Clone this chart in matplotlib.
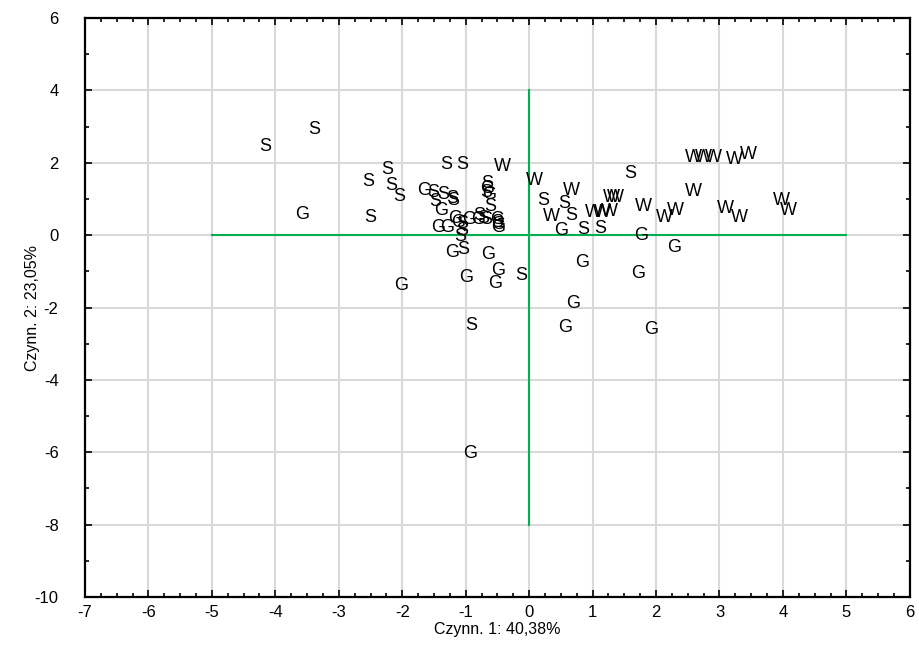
import numpy as np
import matplotlib.pyplot as plt
from matplotlib.ticker import MultipleLocator

plt.rcParams['font.family'] = ['Liberation Sans', 'DejaVu Sans']
plt.rcParams['axes.unicode_minus'] = False

# współrzędne czynnikowe dla grup S, G, W
s_x = [-4.16, -3.38, -2.51, -2.54, -2.23, -2.17, -2.05, -1.31, -1.06, -1.51,
       -1.35, -1.22, -1.19, -1.48, -1.06, -1.06, -1.08, -1.04, -0.78, -0.72,
       -0.66, -0.67, -0.62, -0.67, -0.50, -0.12, -0.91, 0.22, 0.56, 0.66,
       0.86, 1.12, 1.59]
s_y = [2.44, 2.92, 0.49, 1.48, 1.80, 1.36, 1.06, 1.94, 1.94, 1.18,
       1.12, 1.00, 0.95, 0.92, 0.33, 0.14, -0.04, -0.40, 0.53, 0.46,
       1.43, 1.17, 0.79, 0.42, 0.36, -1.12, -2.51, 0.95, 0.88, 0.53,
       0.16, 0.19, 1.71]

g_x = [-3.58, -1.65, -1.38, -1.17, -1.43, -1.30, -0.94, -0.80, -0.66, -0.63,
       -0.51, -0.49, -0.49, -1.22, -0.64, -0.49, -0.54, -1.00, -2.02, 0.50,
       1.76, 2.28, 0.84, 1.72, 0.70, 0.56, 1.93, -0.93, -1.12]
g_y = [0.57, 1.22, 0.67, 0.46, 0.22, 0.22, 0.42, 0.42, 1.29, 1.11,
       0.42, 0.28, 0.20, -0.49, -0.53, -0.97, -1.34, -1.18, -1.38, 0.14,
       0.00, -0.33, -0.76, -1.07, -1.90, -2.55, -2.62, -6.03, 0.35]

w_x = [-0.42, 0.08, 0.35, 0.67, 1.01, 1.27, 1.30, 1.36, 1.80, 2.13,
       2.30, 2.59, 2.59, 2.75, 2.90, 3.24, 3.45, 3.09, 3.31, 3.98,
       4.08, 1.16]
w_y = [1.91, 1.51, 0.51, 1.22, 0.62, 0.65, 1.04, 1.04, 0.80, 0.49,
       0.67, 1.20, 2.15, 2.15, 2.15, 2.09, 2.23, 0.74, 0.49, 0.97,
       0.69, 0.62]

fig = plt.figure(figsize=(9.19, 6.69), dpi=100)
ax = fig.add_axes([0.0925, 0.1076, 0.8975, 0.8655])

ax.set_xlim(-7, 6)
ax.set_ylim(-10, 6)
ax.xaxis.set_major_locator(MultipleLocator(1))
ax.xaxis.set_minor_locator(MultipleLocator(0.25))
ax.yaxis.set_major_locator(MultipleLocator(2))
ax.yaxis.set_minor_locator(MultipleLocator(1))
ax.grid(True, which='major', color='#d9d9d9', linewidth=1.5, zorder=0)
ax.set_axisbelow(True)

ax.tick_params(which='both', direction='in', top=True, right=True,
               width=1.2, color='black')
ax.tick_params(which='major', length=5, labelsize=12)
ax.tick_params(axis='x', which='major', pad=6)
ax.tick_params(axis='y', which='major', pad=19)
ax.tick_params(which='minor', length=3)
for sp in ax.spines.values():
    sp.set_linewidth(1.6)

# osie układu czynnikowego
ax.plot([-5, 5], [0, 0], color='#00b050', linewidth=1.5, zorder=2)
ax.plot([0, 0], [-8, 4], color='#00b050', linewidth=1.5, zorder=2)

for xs, ys, lab in [(s_x, s_y, 'S'), (g_x, g_y, 'G'), (w_x, w_y, 'W')]:
    for x, y in zip(xs, ys):
        ax.text(x, y, lab, ha='center', va='center', fontsize=13,
                color='black', zorder=3)

ax.set_xlabel('Czynn. 1: 40,38%', fontsize=11.5)
ax.set_ylabel('Czynn. 2: 23,05%', fontsize=11.5)
ax.xaxis.set_label_coords(0.5, -0.043)
ax.yaxis.set_label_coords(-0.055, 0.5)

fig.savefig('out.png', dpi=100)
